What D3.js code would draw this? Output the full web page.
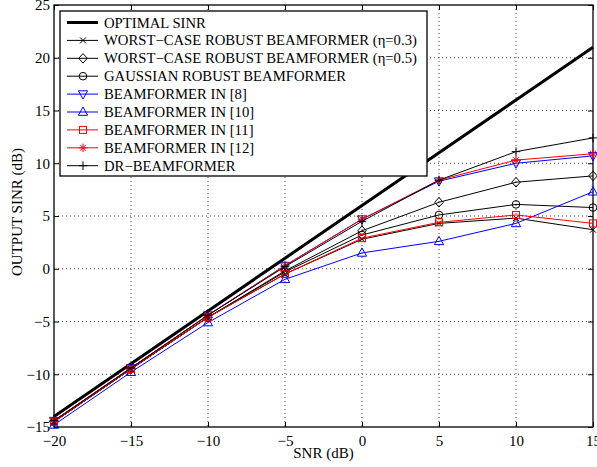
<!DOCTYPE html>
<meta charset="utf-8">
<script src="https://d3js.org/d3.v7.min.js"></script>
<div id="my_dataviz"></div>
<style>
  body { margin: 0; background: #fff; }
  svg text { font-family: "Liberation Serif", "Times New Roman", Times, serif; }
</style>
<script>
// data
var snr = [-20, -15, -10, -5, 0, 5, 10, 15];
var optimal = [-14, -9, -4, 1, 6, 11, 16, 21];
var worst03 = [-14.5, -9.5, -4.6, -0.5, 2.8, 4.3, 4.8, 3.7];
var worst05 = [-14.5, -9.5, -4.6, -0.2, 3.6, 6.3, 8.2, 8.8];
var gaussian = [-14.5, -9.5, -4.6, -0.3, 3.2, 5.1, 6.1, 5.8];
var bf8 = [-14.4, -9.4, -4.4, 0.3, 4.7, 8.3, 10.0, 10.7];
var bf10 = [-14.8, -9.8, -5.1, -1.0, 1.5, 2.6, 4.3, 7.3];
var bf11 = [-14.5, -9.5, -4.6, -0.5, 2.9, 4.4, 5.1, 4.3];
var bf12 = [-14.4, -9.4, -4.4, 0.3, 4.7, 8.4, 10.3, 10.9];
var drbf = [-14.4, -9.4, -4.4, 0.2, 4.5, 8.4, 11.1, 12.4];
var xTicks = [-20, -15, -10, -5, 0, 5, 10, 15];
var yTicks = [-15, -10, -5, 0, 5, 10, 15, 20, 25];

var series = [
  {name: "OPTIMAL SINR", values: optimal, color: "#000", width: 3, marker: "none"},
  {name: "WORST\u2212CASE ROBUST BEAMFORMER (\u03b7=0.3)", values: worst03, color: "#000", width: 1, marker: "x"},
  {name: "WORST\u2212CASE ROBUST BEAMFORMER (\u03b7=0.5)", values: worst05, color: "#000", width: 1, marker: "diamond"},
  {name: "GAUSSIAN ROBUST BEAMFORMER", values: gaussian, color: "#000", width: 1, marker: "circle"},
  {name: "BEAMFORMER IN [8]", values: bf8, color: "#0000ff", width: 1, marker: "tridown"},
  {name: "BEAMFORMER IN [10]", values: bf10, color: "#0000ff", width: 1, marker: "triup"},
  {name: "BEAMFORMER IN [11]", values: bf11, color: "#ff0000", width: 1, marker: "square"},
  {name: "BEAMFORMER IN [12]", values: bf12, color: "#ff0000", width: 1, marker: "star"},
  {name: "DR\u2212BEAMFORMER", values: drbf, color: "#000", width: 1, marker: "plus"}
];

var margin = {top: 5, right: 4, bottom: 40, left: 54},
    width = 597 - margin.left - margin.right,
    height = 467 - margin.top - margin.bottom;

var svg = d3.select("#my_dataviz")
  .append("svg")
    .attr("width", 597)
    .attr("height", 467)
  .append("g")
    .attr("transform", "translate(" + margin.left + "," + margin.top + ")");

var x = d3.scaleLinear().domain([-20, 15]).range([0, width]);
var y = d3.scaleLinear().domain([-15, 25]).range([height, 0]);

// dotted grid
svg.append("g").selectAll("line").data(xTicks.slice(1, -1)).enter().append("line")
  .attr("x1", d => x(d)).attr("x2", d => x(d)).attr("y1", 0).attr("y2", height)
  .attr("stroke", "#444").attr("stroke-width", 1).attr("stroke-dasharray", "1,3");
svg.append("g").selectAll("line").data(yTicks.slice(1, -1)).enter().append("line")
  .attr("y1", d => y(d)).attr("y2", d => y(d)).attr("x1", 0).attr("x2", width)
  .attr("stroke", "#444").attr("stroke-width", 1).attr("stroke-dasharray", "1,3");

// axes with inward ticks
var fmt = d3.format("d");
svg.append("g").attr("transform", "translate(0," + height + ")")
  .call(d3.axisBottom(x).tickValues(xTicks).tickSizeInner(-5).tickSizeOuter(0).tickPadding(8).tickFormat(fmt));
svg.append("g").call(d3.axisTop(x).tickValues(xTicks).tickSizeInner(-5).tickSizeOuter(0).tickFormat(""));
svg.append("g")
  .call(d3.axisLeft(y).tickValues(yTicks).tickSizeInner(-5).tickSizeOuter(0).tickPadding(4).tickFormat(fmt));
svg.append("g").attr("transform", "translate(" + width + ",0)")
  .call(d3.axisRight(y).tickValues(yTicks).tickSizeInner(-5).tickSizeOuter(0).tickFormat(""));
svg.selectAll("g").attr("font-family", null);
svg.selectAll(".tick text").attr("font-size", 15).attr("fill", "#000");
svg.selectAll(".domain").remove();
svg.append("rect").attr("width", width).attr("height", height)
  .attr("fill", "none").attr("stroke", "#000").attr("stroke-width", 1.3);

function drawMarker(g, type, color) {
  if (type === "circle") {
    g.append("circle").attr("r", 3.8).attr("fill", "none").attr("stroke", color);
  } else if (type === "square") {
    g.append("rect").attr("x", -3.5).attr("y", -3.5).attr("width", 7).attr("height", 7).attr("fill", "none").attr("stroke", color);
  } else if (type === "diamond") {
    g.append("path").attr("d", "M0,-4.8L4.3,0L0,4.8L-4.3,0Z").attr("fill", "none").attr("stroke", color);
  } else if (type === "triup") {
    g.append("path").attr("d", "M0,-5L4.6,3.3L-4.6,3.3Z").attr("fill", "none").attr("stroke", color);
  } else if (type === "tridown") {
    g.append("path").attr("d", "M0,5L4.6,-3.3L-4.6,-3.3Z").attr("fill", "none").attr("stroke", color);
  } else if (type === "x") {
    g.append("path").attr("d", "M-3,-3L3,3M-3,3L3,-3").attr("stroke", color);
  } else if (type === "plus") {
    g.append("path").attr("d", "M-4.3,0L4.3,0M0,-4.3L0,4.3").attr("stroke", color);
  } else if (type === "star") {
    g.append("path").attr("d", "M-4.3,0L4.3,0M0,-4.3L0,4.3M-3,-3L3,3M-3,3L3,-3").attr("stroke", color);
  }
}

var line = d3.line().x((d, i) => x(snr[i])).y(d => y(d));

series.forEach(function(s) {
  svg.append("path").datum(s.values)
    .attr("fill", "none").attr("stroke", s.color).attr("stroke-width", s.width)
    .attr("d", line);
  if (s.marker !== "none") {
    s.values.forEach(function(v, i) {
      var g = svg.append("g").attr("transform", "translate(" + x(snr[i]) + "," + y(v) + ")")
        .attr("stroke-width", 1);
      drawMarker(g, s.marker, s.color);
    });
  }
});

// legend
var leg = svg.append("g").attr("transform", "translate(6,6)");
leg.append("rect").attr("width", 367).attr("height", 165)
  .attr("fill", "#fff").attr("stroke", "#000").attr("stroke-width", 1.3);
series.forEach(function(s, i) {
  var yy = 11.5 + i * 17.9;
  var row = leg.append("g").attr("transform", "translate(0," + yy + ")");
  row.append("line").attr("x1", 7).attr("x2", 38).attr("y1", 0).attr("y2", 0)
    .attr("stroke", s.color).attr("stroke-width", s.width);
  if (s.marker !== "none") {
    var g = row.append("g").attr("transform", "translate(23,0)").attr("stroke-width", 1);
    drawMarker(g, s.marker, s.color);
  }
  row.append("text").attr("x", 44).attr("y", 5).attr("font-size", 14.7).text(s.name);
});

// axis titles
svg.append("text").attr("x", width / 2).attr("y", height + 31)
  .attr("text-anchor", "middle").attr("font-size", 15).text("SNR (dB)");
svg.append("text").attr("transform", "rotate(-90)")
  .attr("x", -height / 2 + 4).attr("y", -32)
  .attr("text-anchor", "middle").attr("font-size", 15).text("OUTPUT SINR (dB)");
</script>
